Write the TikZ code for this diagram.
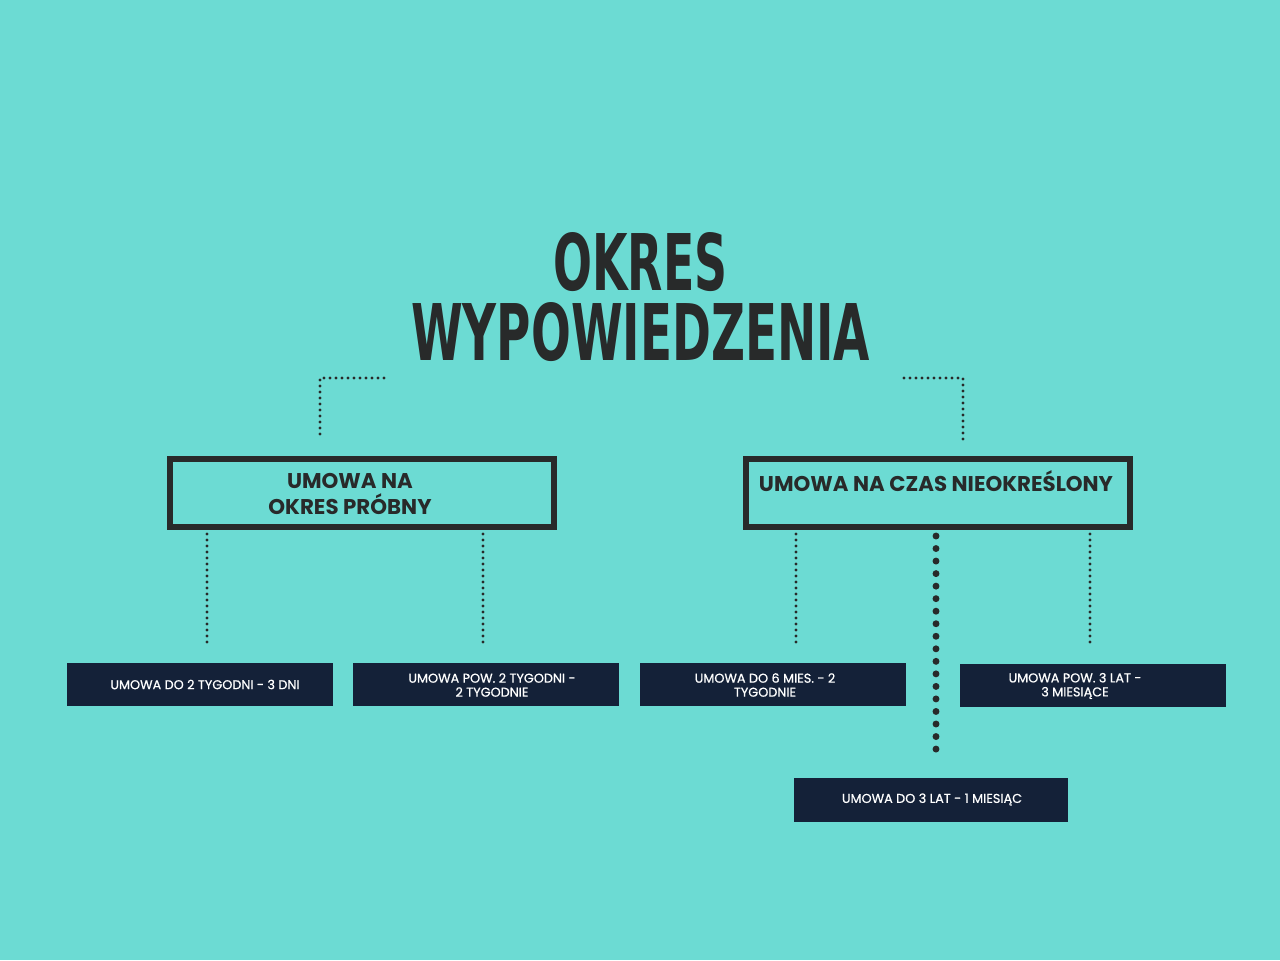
\documentclass[tikz,border=0pt]{standalone}
\usepackage{fontspec}
\usepackage{graphicx}
\setmainfont{Poppins}
\newfontfamily\titlefont{DejaVu Sans Condensed}
\newfontfamily\leaffont[FakeBold=0.6]{Poppins}
\definecolor{bgc}{RGB}{108,219,211}
\definecolor{inkc}{RGB}{40,42,42}
\definecolor{navyc}{RGB}{20,33,56}
\tikzset{
  px/.style={x=0.75pt,y=-0.75pt},
  frame/.style={draw=inkc,line width=4.5pt,rectangle,minimum width=288pt,minimum height=51pt,inner sep=0pt},
  headtext/.style={text=inkc,font=\fontsize{16}{19}\selectfont\bfseries,align=center,inner sep=0pt},
  darkbox/.style={fill=navyc,rectangle,minimum width=199.5pt,minimum height=32.25pt,inner sep=0pt},
  leaftext/.style={text=white,font=\leaffont\fontsize{9.6}{10.5}\selectfont,align=center,inner sep=0pt},
  smalldots/.style={draw=inkc,line width=2.3pt,line cap=round,dash pattern=on 0pt off 4.5pt},
  bigdots/.style={draw=inkc,line width=5.2pt,line cap=round,dash pattern=on 0pt off 9.4pt},
  titletext/.style={text=inkc,inner sep=0pt,anchor=base west}
}
\begin{document}
\begin{tikzpicture}[px]
\fill[bgc] (0,0) rectangle (1280,960);
\useasboundingbox (0,0) rectangle (1280,960);
% title
\node[titletext] (t1) at (553,290) {\resizebox{130.5pt}{43.5pt}{\titlefont\bfseries OKRES}};
\node[titletext] (t2) at (411,360) {\resizebox{344pt}{43.5pt}{\titlefont\bfseries WYPOWIEDZENIA}};
% coordinates for title connectors
\coordinate (la) at (384,378);
\coordinate (lb) at (320,378);
\coordinate (lc) at (320,437);
\coordinate (ra) at (904,378);
\coordinate (rb) at (963,378);
\coordinate (rc) at (963,440);
\draw[smalldots] (la) -- (lb) -- (lc);
\draw[smalldots] (ra) -- (rb) -- (rc);
% framed boxes
\node[frame] (b1) at (361.5,493) {};
\node[headtext] (h1) at (350,494) {UMOWA NA\\OKRES PRÓBNY};
\node[frame] (b2) at (937.5,493) {};
\node[headtext,anchor=base] (h2) at (936,491.5) {UMOWA NA CZAS NIEOKREŚLONY};
% leaf boxes
\node[darkbox] (lA) at (200,684.5) {};
\node[leaftext] (tA) at (205,684.5) {UMOWA DO 2 TYGODNI - 3 DNI};
\node[darkbox] (lB) at (486,684.5) {};
\node[leaftext] (tB) at (492,685) {UMOWA POW. 2 TYGODNI -\\2 TYGODNIE};
\node[darkbox] (lC) at (773,684.5) {};
\node[leaftext] (tC) at (765,685) {UMOWA DO 6 MIES. - 2\\TYGODNIE};
\node[darkbox] (lD) at (1093,685.5) {};
\node[leaftext] (tD) at (1075,686) {UMOWA POW. 3 LAT -\\3 MIESIĄCE};
\node[darkbox,minimum width=205.5pt,minimum height=33pt] (lE) at (931,800) {};
\node[leaftext] (tE) at (932,799.5) {UMOWA DO 3 LAT - 1 MIESIĄC};
% connector ends
\coordinate (e1) at (207,645);
\coordinate (e2) at (483,645);
\coordinate (e3) at (796,645);
\coordinate (e4) at (1090,645);
\coordinate (e5) at (936,760);
\draw[smalldots] (b1.south -| e1) ++(0,4) -- (e1);
\draw[smalldots] (b1.south -| e2) ++(0,4) -- (e2);
\draw[smalldots] (b2.south -| e3) ++(0,4) -- (e3);
\draw[smalldots] (b2.south -| e4) ++(0,4) -- (e4);
\draw[bigdots] (b2.south -| e5) ++(0,6) -- (e5);
\end{tikzpicture}
\end{document}
